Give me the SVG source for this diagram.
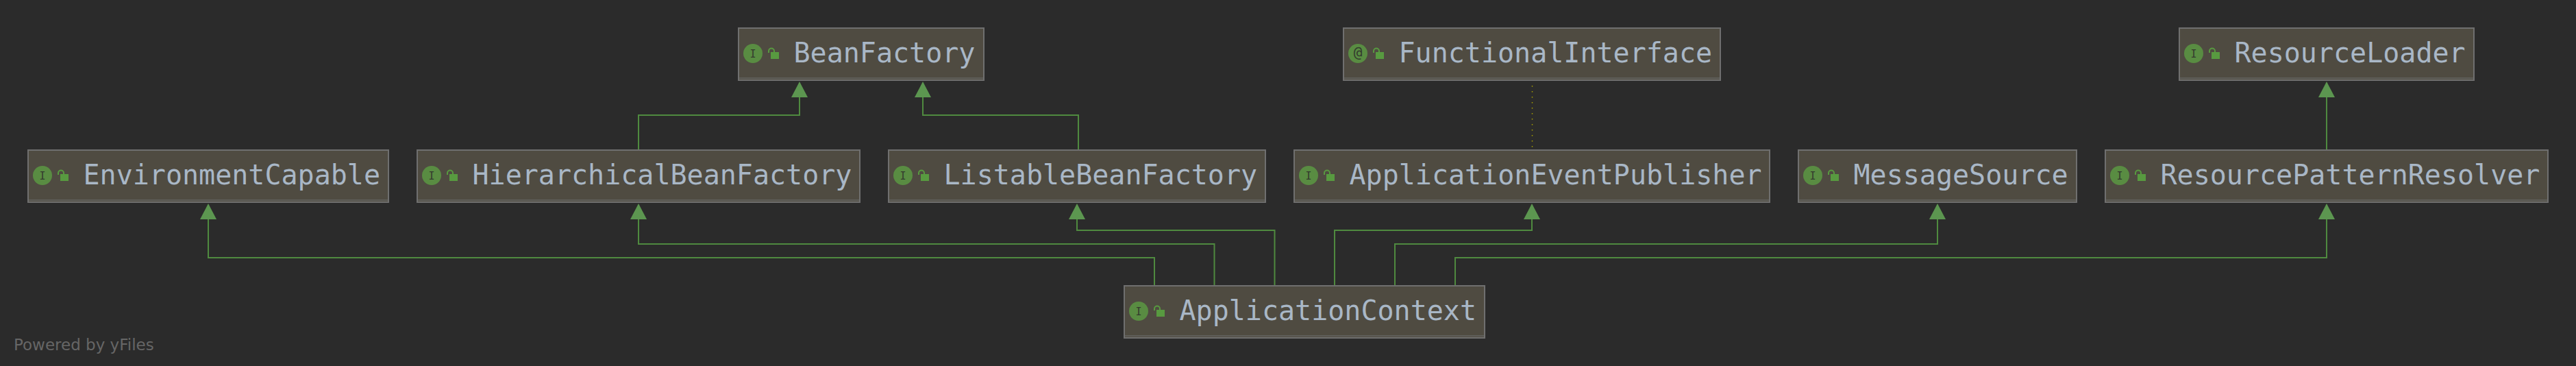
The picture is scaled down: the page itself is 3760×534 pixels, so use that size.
<svg xmlns="http://www.w3.org/2000/svg" width="3760" height="534" viewBox="0 0 3760 534">
<style>
.box{fill:#4f4b41;stroke:#6f6f6f;stroke-width:2}
.shade{stroke:#5f5e5a;stroke-width:2;fill:none}
.name{font-family:"DejaVu Sans Mono","Liberation Mono",monospace;font-size:40px;fill:#a9b7c6}
.badge{fill:#598c42}
.glyph{font-family:"DejaVu Sans Mono","Liberation Mono",monospace;fill:#333a2e;text-anchor:middle}
.i{font-size:15px}
.at{font-size:21px}
.body{fill:#589a40}
.shackle{fill:none;stroke:#589a40;stroke-width:2}
.edge{fill:none;stroke:#4f8a3f;stroke-width:2;marker-end:url(#tri)}
.dot{fill:none;stroke:#a89f00;stroke-width:1.5;stroke-dasharray:1.5 6.5}
.credit{font-family:"DejaVu Sans","Liberation Sans",sans-serif;font-size:23px;fill:#666}
</style>
<defs>
<marker id="tri" viewBox="0 0 23 24" refX="0" refY="12" markerWidth="23" markerHeight="24" markerUnits="userSpaceOnUse" orient="auto">
<path d="M0 0L23 12L0 24z" fill="#5c9650"/>
</marker>
<g id="lock">
<rect class="body" x="47" y="36" width="12" height="10"/>
<path class="shackle" d="M44 37V34.500a4 4 0 0 1 8 0V36"/>
</g>
</defs>
<rect width="3760" height="534" fill="#2b2b2b"/>
<g id="connectors">
<path class="edge" d="M932 218V168H1167V142"/>
<path class="edge" d="M1574 218V168H1347V142"/>
<path class="edge" d="M3396 218V142"/>
<path class="edge" d="M1685 416V376H304V320"/>
<path class="edge" d="M1772.500 416V356H932V320"/>
<path class="edge" d="M1860.500 416V336H1572V320"/>
<path class="edge" d="M1948 416V336H2236V320"/>
<path class="edge" d="M2036 416V356H2828V320"/>
<path class="edge" d="M2124 416V376H3396V320"/>
<path class="dot" d="M2236.500 125V218"/>
</g>
<g id="BeanFactory" transform="translate(1077,40)"><rect class="box" x="1" y="1" width="358" height="76"/><path class="shade" d="M2 74H358"/><circle class="badge" cx="22" cy="38" r="14"/><text class="glyph i" x="22" y="43.500">I</text><use href="#lock" x="1" y="0"/><text class="name" x="81.500" y="51">BeanFactory</text></g>
<g id="FunctionalInterface" transform="translate(1960,40)"><rect class="box" x="1" y="1" width="550" height="76"/><path class="shade" d="M2 74H550"/><circle class="badge" cx="22" cy="38" r="14"/><text class="glyph at" x="22" y="44">@</text><use href="#lock" x="1" y="0"/><text class="name" x="81.500" y="51">FunctionalInterface</text></g>
<g id="ResourceLoader" transform="translate(3180,40)"><rect class="box" x="1" y="1" width="430" height="76"/><path class="shade" d="M2 74H430"/><circle class="badge" cx="22" cy="38" r="14"/><text class="glyph i" x="22" y="43.500">I</text><use href="#lock" x="1" y="0"/><text class="name" x="81.500" y="51">ResourceLoader</text></g>
<g id="EnvironmentCapable" transform="translate(40,218)"><rect class="box" x="1" y="1" width="526" height="76"/><path class="shade" d="M2 74H526"/><circle class="badge" cx="22" cy="38" r="14"/><text class="glyph i" x="22" y="43.500">I</text><use href="#lock" x="1" y="0"/><text class="name" x="81.500" y="51">EnvironmentCapable</text></g>
<g id="HierarchicalBeanFactory" transform="translate(608,218)"><rect class="box" x="1" y="1" width="646" height="76"/><path class="shade" d="M2 74H646"/><circle class="badge" cx="22" cy="38" r="14"/><text class="glyph i" x="22" y="43.500">I</text><use href="#lock" x="1" y="0"/><text class="name" x="81.500" y="51">HierarchicalBeanFactory</text></g>
<g id="ListableBeanFactory" transform="translate(1296,218)"><rect class="box" x="1" y="1" width="550" height="76"/><path class="shade" d="M2 74H550"/><circle class="badge" cx="22" cy="38" r="14"/><text class="glyph i" x="22" y="43.500">I</text><use href="#lock" x="1" y="0"/><text class="name" x="81.500" y="51">ListableBeanFactory</text></g>
<g id="ApplicationEventPublisher" transform="translate(1888,218)"><rect class="box" x="1" y="1" width="694" height="76"/><path class="shade" d="M2 74H694"/><circle class="badge" cx="22" cy="38" r="14"/><text class="glyph i" x="22" y="43.500">I</text><use href="#lock" x="1" y="0"/><text class="name" x="81.500" y="51">ApplicationEventPublisher</text></g>
<g id="MessageSource" transform="translate(2624,218)"><rect class="box" x="1" y="1" width="406" height="76"/><path class="shade" d="M2 74H406"/><circle class="badge" cx="22" cy="38" r="14"/><text class="glyph i" x="22" y="43.500">I</text><use href="#lock" x="1" y="0"/><text class="name" x="81.500" y="51">MessageSource</text></g>
<g id="ResourcePatternResolver" transform="translate(3072,218)"><rect class="box" x="1" y="1" width="646" height="76"/><path class="shade" d="M2 74H646"/><circle class="badge" cx="22" cy="38" r="14"/><text class="glyph i" x="22" y="43.500">I</text><use href="#lock" x="1" y="0"/><text class="name" x="81.500" y="51">ResourcePatternResolver</text></g>
<g id="ApplicationContext" transform="translate(1640,416)"><rect class="box" x="1" y="1" width="526" height="76"/><path class="shade" d="M2 74H526"/><circle class="badge" cx="22" cy="38" r="14"/><text class="glyph i" x="22" y="43.500">I</text><use href="#lock" x="1" y="0"/><text class="name" x="81.500" y="51">ApplicationContext</text></g>
<text class="credit" x="20" y="510.500">Powered by yFiles</text>
</svg>
